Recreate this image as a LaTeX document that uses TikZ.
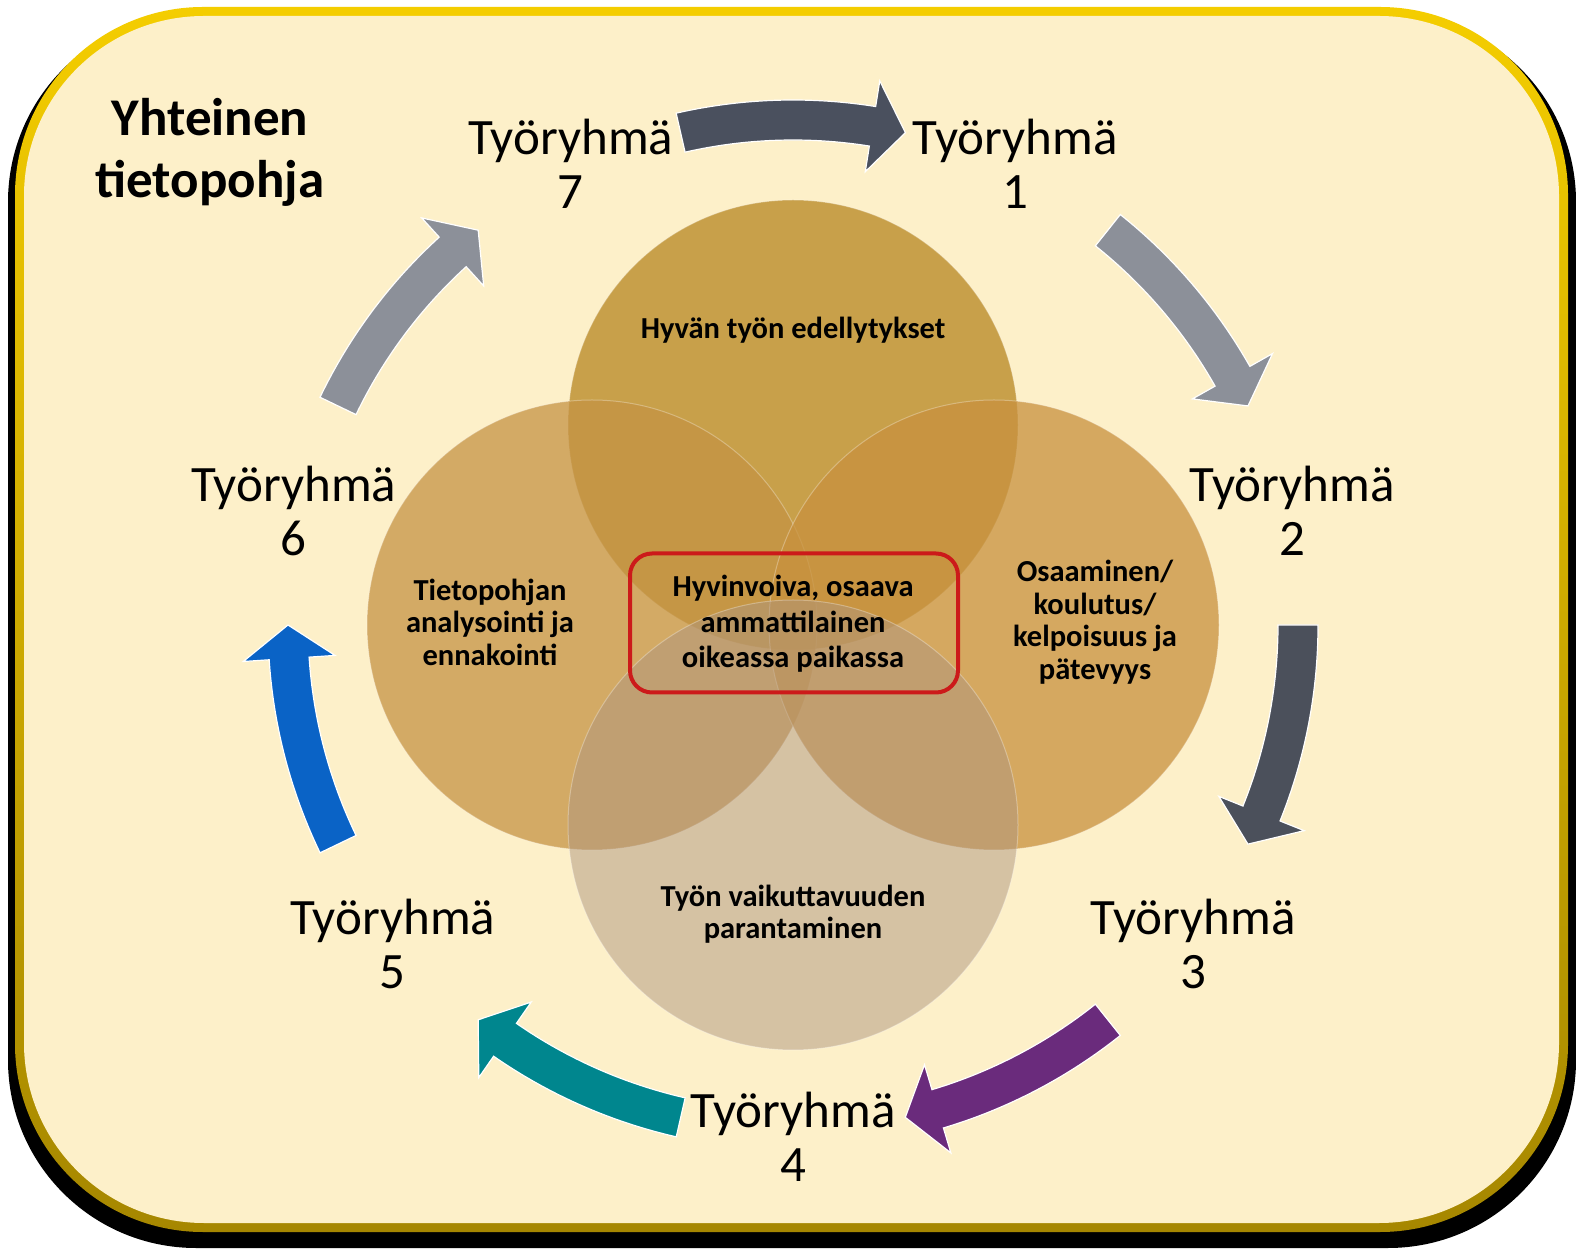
\documentclass[tikz,border=0pt]{standalone}
\usepackage{fontspec}
\setmainfont{Carlito}
\definecolor{cream}{HTML}{FDF0C9}
\definecolor{goldtop}{HTML}{F4CD00}
\definecolor{goldbot}{HTML}{A68700}
\definecolor{ctopc}{HTML}{BF9234}
\definecolor{cleftc}{HTML}{C59344}
\definecolor{crightc}{HTML}{C8913E}
\definecolor{cbotc}{HTML}{AF967F}
\definecolor{arrA}{HTML}{4A505E}
\definecolor{arrB}{HTML}{8C9099}
\definecolor{arrC}{HTML}{4B505B}
\definecolor{arrD}{HTML}{6A2B7C}
\definecolor{arrE}{HTML}{00868E}
\definecolor{arrF}{HTML}{0A63C6}
\definecolor{boxred}{HTML}{CC1A1A}
\newcommand{\cyclearrow}[2]{%
  \pgfmathsetmacro{\aT}{#1+12.86}%
  \pgfmathsetmacro{\aP}{#1-12.86}%
  \pgfmathsetmacro{\aB}{#1-12.86+3.8}%
  \filldraw[fill=#2, draw=white, line width=1.2pt, line join=miter]
    ([shift={(793,623)}]\aT:525) arc[start angle=\aT, end angle=\aB, radius=525]
    -- ([shift={(793,623)}]\aB:551) -- ([shift={(793,623)}]\aP:505)
    -- ([shift={(793,623)}]\aB:459) -- ([shift={(793,623)}]\aB:485)
    arc[start angle=\aB, end angle=\aT, radius=485] -- cycle;
}
\begin{document}
\begin{tikzpicture}[x=1pt,y=1pt,
  grp/.style={align=center, font=\fontsize{51}{54}\selectfont, inner sep=0pt},
  ctext/.style={align=center, font=\fontsize{30.5}{32.5}\selectfont\bfseries, inner sep=0pt},
  venn/.style={circle, minimum size=450pt, inner sep=0pt, draw=white, draw opacity=0.3, line width=1pt}]
\useasboundingbox (0,0) rectangle (1576,1248);
\fill[white] (0,0) rectangle (1576,1248);
% frame
\fill[black, rounded corners=188pt] (8,0) rectangle (1576,1234);
\shade[top color=goldtop, bottom color=goldbot, rounded corners=188pt] (15,16) rectangle (1568,1241);
\fill[cream, rounded corners=180pt] (24,25) rectangle (1559,1232);
% title
\node[align=center, font=\fontsize{53}{62}\selectfont\bfseries, inner sep=0pt] (title) at (210,1096) {Yhteinen\\tietopohja};
% circles
\node[venn, fill=ctopc, fill opacity=0.85] (ctop) at (793,823) {};
\node[venn, fill=cleftc, fill opacity=0.75] (cleft) at (592,623) {};
\node[venn, fill=crightc, fill opacity=0.75] (cright) at (994,623) {};
\node[venn, fill=cbotc, fill opacity=0.5] (cbot) at (793,423) {};
% circle texts
\node[ctext] (ttop) at (793,918) {Hyvän työn edellytykset};
\node[ctext] (tleft) at (490,626) {Tietopohjan\\analysointi ja\\ennakointi};
\node[ctext] (tright) at (1095,626) {Osaaminen/\\koulutus/\\kelpoisuus ja\\pätevyys};
\node[ctext] (tbot) at (793,334) {Työn vaikuttavuuden\\parantaminen};
% center box
\node[draw=boxred, line width=4pt, rounded corners=22pt, minimum width=328pt, minimum height=139pt, inner sep=0pt] (core) at (794,625) {};
\node[align=center, font=\fontsize{30.5}{35.5}\selectfont\bfseries, inner sep=0pt] (coretext) at (793,624) {Hyvinvoiva, osaava\\ammattilainen\\oikeassa paikassa};
% cycle arrows
\cyclearrow{90}{arrA}
\cyclearrow{38.57}{arrB}
\cyclearrow{-12.86}{arrC}
\cyclearrow{-64.29}{arrD}
\cyclearrow{-115.71}{arrE}
\cyclearrow{-167.14}{arrF}
\cyclearrow{141.43}{arrB}
% group labels
\node[grp] (g1) at ([shift={(793,623)}]64.29:512) {Työryhmä\\1};
\node[grp] (g2) at ([shift={(793,623)}]12.86:512) {Työryhmä\\2};
\node[grp] (g3) at ([shift={(793,623)}]-38.57:512) {Työryhmä\\3};
\node[grp] (g4) at ([shift={(793,623)}]-90:512) {Työryhmä\\4};
\node[grp] (g5) at ([shift={(793,623)}]-141.43:512) {Työryhmä\\5};
\node[grp] (g6) at ([shift={(793,623)}]167.14:512) {Työryhmä\\6};
\node[grp] (g7) at ([shift={(793,623)}]115.71:512) {Työryhmä\\7};
\end{tikzpicture}
\end{document}
